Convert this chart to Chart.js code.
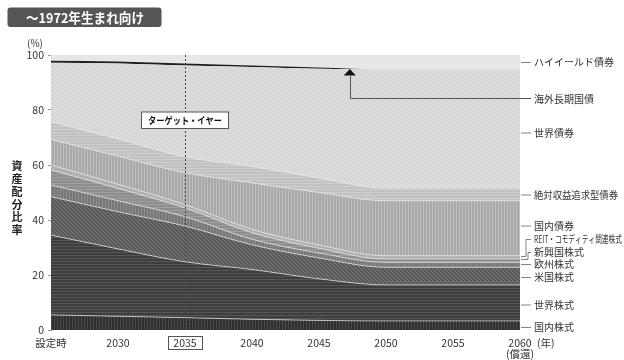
<!DOCTYPE html>
<html>
<head>
<meta charset="utf-8">
<script src="https://cdn.jsdelivr.net/npm/chart.js@4.4.1/dist/chart.umd.min.js"></script>
<style>
html, body { margin: 0; padding: 0; background: #fff; }
#wrap { width: 624px; height: 360px; }
</style>
</head>
<body>
<div id="wrap"><canvas id="chart" width="624" height="360"></canvas></div>
<script>
// 年（設定時=2025, 償還=2060）
const years = [2025, 2030, 2035, 2040, 2045, 2050, 2055, 2060];

// 資産配分 (%)  下から順に積み上げ
const kokunaiKabu   = [5.5, 5.0, 4.5, 3.9, 3.5, 3.3, 3.3, 3.3];
const sekaiKabu     = [29.0, 24.5, 20.3, 18.1, 15.1, 13.1, 13.1, 13.1];
const beikokuKabu   = [14.0, 13.5, 13.0, 9.0, 7.6, 6.4, 6.4, 6.4];
const oshuKabu      = [4.2, 4.0, 3.4, 2.0, 1.8, 1.8, 1.8, 1.8];
const shinkokoKabu  = [5.5, 4.5, 3.2, 2.4, 1.7, 1.2, 1.2, 1.2];
const reit          = [1.8, 1.5, 1.2, 1.2, 1.2, 1.2, 1.2, 1.2];
const kokunaiSai    = [9.3, 10.2, 11.6, 16.9, 19.1, 20.0, 20.0, 20.0];
const zettaiSai     = [6.4, 6.3, 5.8, 6.0, 5.3, 4.6, 4.6, 4.6];
const sekaiSai      = [21.5, 27.4, 33.2, 36.1, 39.7, 43.2, 43.2, 43.2];
const kaigaiChoki   = [0.7, 0.7, 0.7, 0.6, 0.5, 0, 0, 0];
const highYield     = [2.1, 2.4, 3.1, 3.8, 4.5, 5.2, 5.2, 5.2];

const seriesNames = ['国内株式', '世界株式', '米国株式', '欧州株式', '新興国株式',
  'REIT・コモディティ関連株式', '国内債券', '絶対収益追求型債券', '世界債券', '海外長期国債', 'ハイイールド債券'];

const targetYear = 2035;
const FONT = "'Noto Sans CJK JP', 'Noto Sans', sans-serif";

function makePattern(base, line, type) {
  const c = document.createElement('canvas');
  const s = type === 'd' ? 4 : 3;
  c.width = s; c.height = s;
  const g = c.getContext('2d');
  g.fillStyle = base;
  g.fillRect(0, 0, s, s);
  g.fillStyle = line;
  if (type === 'v') g.fillRect(0, 0, 1, s);
  else if (type === 'h') g.fillRect(0, 0, s, 1);
  else if (type === 'd') {
    for (let i = 0; i < s; i++) g.fillRect(i, i, 1, 1);
  }
  return g.createPattern(c, 'repeat');
}

const fills = [
  makePattern('#2f2f2f', '#4c4c4c', 'v'),
  makePattern('#3e3e3e', '#565656', 'h'),
  makePattern('#5a5a5a', '#7c7c7c', 'd'),
  makePattern('#777777', '#8f8f8f', 'v'),
  makePattern('#8e8e8e', '#a0a0a0', 'h'),
  '#b0b0b0',
  makePattern('#a9a9a9', '#bebebe', 'v'),
  makePattern('#c2c2c2', '#cfcfcf', 'h'),
  makePattern('#d6d6d6', '#e2e2e2', 'd'),
  '#1e1e1e',
  '#e7e7e7'
];

const allSeries = [kokunaiKabu, sekaiKabu, beikokuKabu, oshuKabu, shinkokoKabu, reit,
  kokunaiSai, zettaiSai, sekaiSai, kaigaiChoki, highYield];

const datasets = allSeries.map((vals, i) => ({
  label: seriesNames[i],
  data: years.map((y, j) => ({ x: y, y: vals[j] })),
  backgroundColor: fills[i],
  borderColor: 'rgba(235,235,235,0.85)',
  borderWidth: (i === 8 || i === 9 || i === 10) ? 0 : 0.8,
  pointRadius: 0,
  fill: i === 0 ? 'origin' : '-1',
  cubicInterpolationMode: 'monotone'
}));

// 注記・ラベル描画
const overlay = {
  id: 'overlay',
  afterDatasetsDraw(chart) {
    const ctx = chart.ctx;
    const x = chart.scales.x, y = chart.scales.y;
    const area = chart.chartArea;
    ctx.save();

    // ターゲット・イヤーの破線
    const tx = x.getPixelForValue(targetYear);
    ctx.strokeStyle = '#444';
    ctx.lineWidth = 1;
    ctx.setLineDash([2, 2]);
    ctx.beginPath();
    ctx.moveTo(Math.round(tx) + 0.5, area.top);
    ctx.lineTo(Math.round(tx) + 0.5, area.bottom);
    ctx.stroke();
    ctx.setLineDash([]);

    // ターゲット・イヤー ボックス
    ctx.fillStyle = '#fff';
    ctx.fillRect(141.5, 112, 87, 16.5);
    ctx.strokeStyle = '#555';
    ctx.strokeRect(141.5, 112, 87, 16.5);
    ctx.fillStyle = '#111';
    ctx.font = 'bold 9.5px ' + FONT;
    ctx.textAlign = 'center';
    ctx.textBaseline = 'middle';
    ctx.fillText('ターゲット・イヤー', 185, 120.5, 74);

    // 海外長期国債の矢印
    const ax = x.getPixelForValue(2047.3);
    ctx.fillStyle = '#111';
    ctx.beginPath();
    ctx.moveTo(ax, 69);
    ctx.lineTo(ax - 6, 75.5);
    ctx.lineTo(ax + 6, 75.5);
    ctx.closePath();
    ctx.fill();
    ctx.strokeStyle = '#555';
    ctx.lineWidth = 1;
    ctx.beginPath();
    ctx.moveTo(Math.round(ax) + 0.5, 75.5);
    ctx.lineTo(Math.round(ax) + 0.5, 98.5);
    ctx.lineTo(531, 98.5);
    ctx.stroke();

    // 右側のラベル
    const lx0 = area.right + 1, lx1 = area.right + 11, tx0 = area.right + 14;
    const labels = [
      ['ハイイールド債券', 62.5, null, 90],
      ['海外長期国債', 99.5, 'arrow', 90],
      ['世界債券', 133, null, 90],
      ['絶対収益追求型債券', 195, null, 84],
      ['国内債券', 226, null, 90],
      ['REIT・コモディティ関連株式', 239.5, 256.5, 88],
      ['新興国株式', 252.5, 259.5, 90],
      ['欧州株式', 264.5, null, 90],
      ['米国株式', 277.5, null, 90],
      ['世界株式', 305, null, 90],
      ['国内株式', 327.5, null, 90]
    ];
    ctx.strokeStyle = '#666';
    ctx.lineWidth = 0.8;
    ctx.font = '10px ' + FONT;
    ctx.textAlign = 'left';
    ctx.textBaseline = 'middle';
    ctx.fillStyle = '#333';
    labels.forEach(([t, ly, from, mw]) => {
      if (from !== 'arrow') {
        ctx.beginPath();
        if (from !== null) {
          const mx = from === 256.5 ? area.right + 6 : area.right + 8;
          ctx.moveTo(lx0, from);
          ctx.lineTo(mx, from);
          ctx.lineTo(mx, ly);
          ctx.lineTo(lx1, ly);
        } else {
          ctx.moveTo(lx0, ly);
          ctx.lineTo(lx1, ly);
        }
        ctx.stroke();
      }
      ctx.fillText(t, tx0, ly, mw);
    });

    ctx.restore();
  },
  afterDraw(chart) {
    const ctx = chart.ctx;
    const x = chart.scales.x;
    ctx.save();

    // タイトルボックス
    ctx.fillStyle = '#555';
    ctx.beginPath();
    ctx.roundRect(7.5, 7.5, 154, 19.5, 3);
    ctx.fill();
    ctx.fillStyle = '#fff';
    ctx.font = 'bold 13.5px ' + FONT;
    ctx.textAlign = 'left';
    ctx.textBaseline = 'middle';
    ctx.fillText('～1972年生まれ向け', 26, 17.5, 118);

    // (%)
    ctx.fillStyle = '#333';
    ctx.font = '10px ' + FONT;
    ctx.textAlign = 'center';
    ctx.fillText('(%)', 35, 43);

    // 縦軸タイトル
    ctx.font = 'bold 11px ' + FONT;
    ctx.fillStyle = '#222';
    const chars = '資産配分比率'.split('');
    chars.forEach((c, i) => ctx.fillText(c, 17, 166 + i * 12.8));

    // 2035 の枠
    const bx = x.getPixelForValue(targetYear);
    ctx.strokeStyle = '#555';
    ctx.lineWidth = 1;
    ctx.strokeRect(Math.round(bx) - 16.5, 336.5, 34, 13);

    // (年)
    ctx.fillStyle = '#333';
    ctx.font = '10.5px ' + FONT;
    ctx.textAlign = 'left';
    ctx.fillText('(年)', 537, 343.5);
    ctx.restore();
  }
};

new Chart(document.getElementById('chart'), {
  type: 'line',
  data: { datasets },
  options: {
    responsive: false,
    animation: false,
    devicePixelRatio: 1,
    layout: { padding: { left: 0, right: 104, top: 55, bottom: 0 } },
    plugins: {
      legend: { display: false },
      tooltip: { enabled: false },
      filler: { propagate: false }
    },
    elements: { line: { tension: 0.3 } },
    scales: {
      x: {
        type: 'linear',
        min: 2025,
        max: 2060,
        afterFit: s => { s.height = 30; },
        grid: { display: false, drawTicks: false },
        border: { display: false },
        ticks: {
          stepSize: 5,
          padding: 7,
          maxRotation: 0,
          autoSkip: false,
          color: '#333',
          font: { size: 10.5, family: FONT, lineHeight: 1.1 },
          callback: v => v === 2025 ? '設定時' : (v === 2060 ? ['2060', '(償還)'] : String(v))
        }
      },
      y: {
        stacked: true,
        min: 0,
        max: 100,
        afterFit: s => { s.width = 51; },
        grid: { drawOnChartArea: false, tickLength: 3, color: '#999' },
        border: { display: true, color: '#999' },
        ticks: {
          stepSize: 20,
          padding: 4,
          color: '#333',
          font: { size: 10.5, family: FONT }
        }
      }
    }
  },
  plugins: [overlay]
});
</script>
</body>
</html>
